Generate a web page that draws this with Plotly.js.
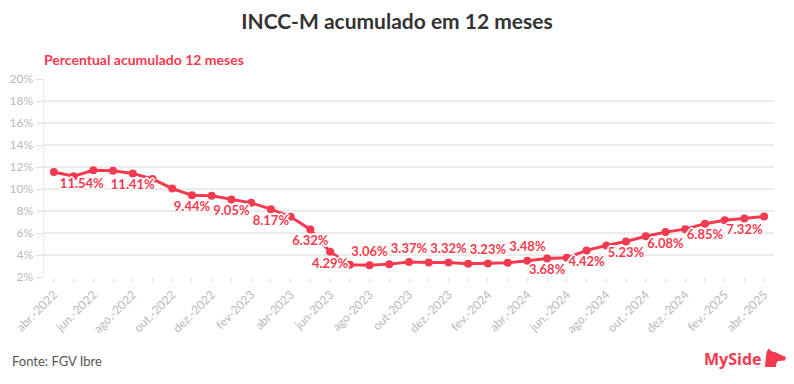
<!DOCTYPE html>
<html>
<head>
<meta charset="utf-8">
<script src="https://cdn.plot.ly/plotly-3.0.1.min.js"></script>
<style>
html,body{margin:0;padding:0;background:#fff;}
#chart{width:794px;height:384px;}
</style>
</head>
<body>
<div id="chart"></div>
<script>
// ---- DATA ----
const months = [
  "abr.-2022","mai.-2022","jun.-2022","jul.-2022","ago.-2022","set.-2022","out.-2022","nov.-2022","dez.-2022",
  "jan.-2023","fev-2023","mar-2023","abr-2023","mai-2023","jun-2023","jul-2023","ago-2023","set-2023","out-2023","nov-2023","dez.-2023",
  "jan.-2024","fev.-2024","mar.-2024","abr.-2024","mai.-2024","jun.-2024","jul.-2024","ago.-2024","set.-2024","out.-2024","nov.-2024","dez.-2024",
  "jan.-2025","fev.-2025","mar.-2025","abr.-2025"
];
const incc = [
  11.54, 11.17, 11.71, 11.65, 11.41, 10.92, 10.04, 9.44, 9.38,
  9.05, 8.74, 8.17, 7.47, 6.32, 4.29, 3.11, 3.06, 3.17, 3.37, 3.32, 3.32,
  3.20, 3.23, 3.29, 3.48, 3.68, 3.74, 4.42, 4.86, 5.23, 5.71, 6.08, 6.35,
  6.85, 7.16, 7.32, 7.50
];
const labelledMonths = ["abr.-2022","ago.-2022","nov.-2022","jan.-2023","mar-2023","mai-2023","jun-2023",
  "ago-2023","out-2023","dez.-2023","fev.-2024","abr.-2024","mai.-2024","jul.-2024","set.-2024","nov.-2024","jan.-2025","mar.-2025"];
const shownTickLabels = ["abr.-2022","jun.-2022","ago.-2022","out.-2022","dez.-2022","fev-2023","abr-2023","jun-2023",
  "ago-2023","out-2023","dez.-2023","fev.-2024","abr.-2024","jun.-2024","ago.-2024","out.-2024","dez.-2024","fev.-2025","abr.-2025"];
const yTicks = [2,4,6,8,10,12,14,16,18,20];

// ---- STYLE ----
const RED = '#f43a4f';
const aboveSet = new Set(["ago-2023","out-2023","dez.-2023","fev.-2024","abr.-2024"]);
const texts = months.map((m,i)=> labelledMonths.includes(m) ? incc[i].toFixed(2)+'%' : '');
const positions = months.map((m,i)=> i===0 ? 'bottom right' : (aboveSet.has(m) ? 'top center' : 'bottom center'));
const halo = '-1px -1px 0 #fff, 1px -1px 0 #fff, -1px 1px 0 #fff, 1px 1px 0 #fff, 0 2px 0 #fff, 0 -2px 0 #fff, 2px 0 0 #fff, -2px 0 0 #fff';

const FONT = 'Lato, "Source Sans Pro", "Open Sans", sans-serif';

const trace = {
  x: months, y: incc, type: 'scatter', mode: 'lines+markers+text',
  line: {color: RED, width: 3},
  marker: {color: RED, size: 8},
  text: texts, textposition: positions,
  textfont: {family: FONT, size: 13, color: RED, weight: 'bold', shadow: halo},
  hoverinfo: 'x+y', cliponaxis: false
};

// plot area: x 44..774, y 79..277
const plotH = 198, plotW = 730;
const px2py = p => (277 - p) / plotH;
const px2px = p => (p - 44) / plotW;

// logo outline (screen pixels)
const dogPts = [[765,367],[766,356],[767,351],[769,348.5],[771,351],[776,352.5],[781,355],[786,357],[785,360.5],[778,361],[776,364],[776,367]];
const dogPath = dogPts.map((p,i)=> (i? 'L ':'M ') + px2px(p[0]).toFixed(5) + ' ' + px2py(p[1]).toFixed(5)).join(' ') + ' Z';

const layout = {
  width: 794, height: 384,
  margin: {l: 44, r: 20, t: 79, b: 107},
  paper_bgcolor: '#fff', plot_bgcolor: '#fff',
  showlegend: false,
  font: {family: FONT},
  title: {
    text: 'INCC-M acumulado em 12 meses',
    font: {family: FONT, size: 21, color: '#333', weight: 'bold'},
    x: 0.5, xref: 'container', xanchor: 'center',
    y: 1 - 22/384, yref: 'container', yanchor: 'middle'
  },
  xaxis: {
    type: 'category', range: [-0.5, months.length - 0.5],
    tickmode: 'array', tickvals: months,
    ticktext: months.map(m => shownTickLabels.includes(m) ? m : ''),
    tickangle: -45, ticks: 'outside', ticklen: 5, tickcolor: '#e2e2e2', tickwidth: 1,
    tickfont: {family: FONT, size: 12, color: '#b9b9b9'},
    showgrid: false, showline: false, zeroline: false, fixedrange: true
  },
  yaxis: {
    range: [2, 20], tickmode: 'array', tickvals: yTicks,
    ticktext: yTicks.map(v => v + '%'),
    ticks: 'outside', ticklen: 7, tickcolor: '#e2e2e2',
    tickfont: {family: FONT, size: 12, color: '#b9b9b9'},
    showgrid: true, gridcolor: '#ebebeb', gridwidth: 2,
    showline: true, linecolor: '#ebebeb', linewidth: 1.5,
    zeroline: false, fixedrange: true
  },
  annotations: [
    {text: 'Percentual acumulado 12 meses', xref: 'paper', yref: 'paper',
     x: px2px(42), y: px2py(60), xanchor: 'left', yanchor: 'middle', showarrow: false,
     font: {family: FONT, size: 14, color: RED, weight: 'bold'}},
    {text: 'Fonte: FGV Ibre', xref: 'paper', yref: 'paper',
     x: px2px(10), y: px2py(361), xanchor: 'left', yanchor: 'middle', showarrow: false,
     font: {family: FONT, size: 13, color: '#555'}},
    {text: 'MySide', xref: 'paper', yref: 'paper',
     x: px2px(763), y: px2py(359), xanchor: 'right', yanchor: 'middle', showarrow: false,
     font: {family: '"Open Sans", sans-serif', size: 16, color: RED, weight: 'bold'}}
  ],
  shapes: [
    {type: 'path', xref: 'paper', yref: 'paper', path: dogPath,
     fillcolor: RED, line: {width: 0}}
  ]
};

Plotly.newPlot('chart', [trace], layout, {displayModeBar: false, staticPlot: true});
</script>
</body>
</html>
